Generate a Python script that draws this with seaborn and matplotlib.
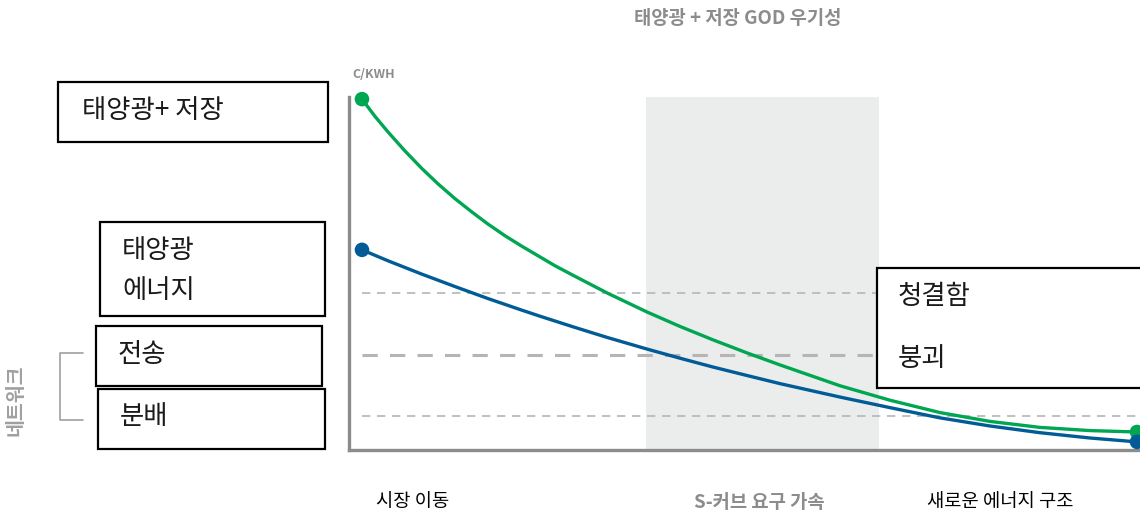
import pandas as pd
import matplotlib.pyplot as plt
import seaborn as sns
from matplotlib.patches import Rectangle

# values (x: 0-100 along the time axis, y: 0-100 cost)
green_x = [1.64, 3.29, 4.93, 7.08, 9.23, 11.25, 13.40, 15.55, 17.57, 19.72, 21.87,
           26.04, 28.32, 32.62, 37.67, 41.85, 46.02, 50.32, 54.49, 62.07, 68.39,
           74.72, 81.04, 87.36, 93.68, 99.62]
green_y = [99.4, 94.5, 90.1, 84.7, 79.7, 75.4, 71.2, 67.4, 64.0, 60.7, 57.7,
           52.2, 49.5, 44.5, 39.1, 35.0, 31.2, 27.5, 24.1, 18.2, 14.1,
           10.6, 8.1, 6.4, 5.5, 5.1]
blue_x = [1.64, 4.93, 9.23, 13.40, 17.57, 21.87, 24.15, 28.32, 32.62, 37.67, 41.85,
          46.02, 50.32, 54.49, 62.07, 68.39, 74.72, 81.04, 87.36, 93.68, 99.62]
blue_y = [56.7, 53.6, 49.8, 46.3, 42.9, 39.6, 37.9, 34.9, 31.9, 28.6, 26.0,
          23.5, 21.1, 18.8, 15.0, 12.0, 9.1, 6.8, 4.9, 3.4, 2.3]
dash_levels = [44.5, 26.9, 9.6]
band = [37.5, 67.0]

title = '태양광 + 저장 GOD 우기성'
unit_label = 'C/KWH'
bottom_labels = ['시장 이동', 'S-커브 요구 가속', '새로운 에너지 구조']
network_label = '네트워크'

GREEN = '#00A651'
BLUE = '#005B96'
GREY = '#8C8C8C'

df = pd.concat([
    pd.DataFrame({'x': green_x, 'y': green_y, 'series': 'solar_storage'}),
    pd.DataFrame({'x': blue_x, 'y': blue_y, 'series': 'solar'}),
])
ends = df.groupby('series').nth([0, -1])
palette = {'solar_storage': GREEN, 'solar': BLUE}

sns.set_style('white')
plt.rcParams['font.family'] = ['Noto Sans CJK KR', 'DejaVu Sans']

fig = plt.figure(figsize=(11.4, 5.17), dpi=100)
ax = fig.add_axes([349 / 1140, 67 / 517, 791 / 1140, 353 / 517])

# shaded S-curve region
ax.axvspan(band[0], band[1], color='#EBEDEC', zorder=0, lw=0)

# dashed reference levels
for i, lv in enumerate(dash_levels):
    ax.plot([1.6, 100], [lv, lv], ls=(0, (5, 4)), color='#B5B5B5',
            lw=2.2 if i == 1 else 1.2, zorder=1)

sns.lineplot(data=df, x='x', y='y', hue='series', palette=palette, lw=2.4,
             legend=False, ax=ax, zorder=3, sort=False)
sns.scatterplot(data=ends, x='x', y='y', hue='series', palette=palette, s=110,
                edgecolor='none', legend=False, ax=ax, zorder=4, clip_on=False)

ax.set_xlim(0, 100)
ax.set_ylim(0, 100)
ax.set_xticks([])
ax.set_yticks([])
ax.set_xlabel('')
ax.set_ylabel('')
for s in ['top', 'right']:
    ax.spines[s].set_visible(False)
for s in ['left', 'bottom']:
    ax.spines[s].set_color(GREY)
    ax.spines[s].set_linewidth(2.4)

# overlay in pixel coordinates for boxes and labels
ov = fig.add_axes([0, 0, 1, 1], zorder=10)
ov.set_xlim(0, 1140)
ov.set_ylim(517, 0)
ov.axis('off')
ov.patch.set_alpha(0)

boxes = [(58, 82, 270, 60), (100, 222, 225, 94), (96, 326, 226, 60),
         (98, 389, 227, 60), (877, 268, 270, 120)]
for x0, y0, w, h in boxes:
    ov.add_patch(Rectangle((x0, y0), w, h, facecolor='white', edgecolor='black',
                           lw=1.6, clip_on=False))
for txt, x, y in [('태양광+ 저장', 82, 111), ('태양광', 122, 251), ('에너지', 122, 291),
                  ('전송', 118, 354), ('분배', 120, 417), ('청결함', 898, 296),
                  ('붕괴', 898, 359)]:
    ov.text(x, y, txt, fontsize=19, color='#1a1a1a', va='center', ha='left')

ov.text(738, 19, title, fontsize=13.5, fontweight='bold', color=GREY,
        ha='center', va='center')
ov.text(352, 75, unit_label, fontsize=9, fontweight='bold', color=GREY,
        ha='left', va='center')

ov.text(413, 502, bottom_labels[0], fontsize=13.5, color='black', ha='center', va='center')
ov.text(759, 502, bottom_labels[1], fontsize=13.5, fontweight='bold', color=GREY,
        ha='center', va='center')
ov.text(1000, 502, bottom_labels[2], fontsize=13.5, color='black', ha='center', va='center')

ov.text(16, 400, network_label, fontsize=14, fontweight='bold', color='#A0A0A0',
        rotation=90, ha='center', va='center')
ov.plot([83, 60, 60, 83], [353, 353, 420, 420], color='#A0A0A0', lw=1.2)

fig.savefig('out.png', dpi=100)
